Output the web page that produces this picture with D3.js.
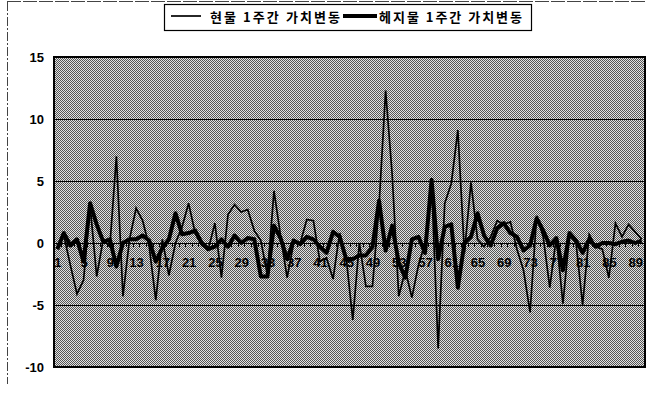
<!DOCTYPE html>
<html>
<head>
<meta charset="utf-8">
<script src="https://cdn.jsdelivr.net/npm/d3@7"></script>
<style>
  html, body { margin: 0; padding: 0; background: #fff; }
  svg { display: block; }
</style>
</head>
<body>
<svg id="chart" width="648" height="393"></svg>
<script>
// Week numbers on the category axis
const weeks = d3.range(1, 91);

// Weekly value change of the spot position
const spotChange = [
  -0.3, 0.6, -1.8, -4.1, -3.0, 3.0, -2.7, 0.3, -0.3, 7.0,
  -4.3, 0.3, 2.8, 1.8, -0.3, -4.6, 0.3, -2.6, 0.0, 1.3,
  3.2, 0.8, -0.2, -0.5, 1.6, -2.8, 2.3, 3.1, 2.5, 2.7,
  1.0, 0.2, -2.6, 4.2, 0.6, -2.8, 0.0, 0.0, 1.9, 1.8,
  -1.5, -1.2, -2.9, 0.8, -1.2, -6.2, 0.0, -3.5, -3.5, 3.0,
  12.3, 5.5, -4.3, -2.2, -4.4, -1.8, 0.0, 4.8, -8.5, 3.2,
  4.8, 9.1, -0.8, 4.9, 0.3, -0.3, 0.5, 1.8, 1.5, 1.7,
  -0.5, -2.2, -5.6, 2.2, 0.5, -3.6, 0.5, -4.9, 0.6, 0.0,
  -5.0, 0.7, -0.3, -0.5, -2.8, 1.6, 0.5, 1.5, 0.9, 0.3
];

// Weekly value change of the hedged position
const hedgeChange = [
  -0.5, 0.8, -0.2, 0.3, -1.5, 3.2, 1.5, 0.1, 0.3, -1.9,
  0.0, 0.3, 0.3, 0.6, 0.2, -1.5, -0.4, 0.3, 2.4, 0.7,
  0.8, 1.0, 0.0, -0.5, -0.3, 0.3, -0.3, 0.6, 0.0, 0.4,
  0.3, -2.7, -2.7, 1.4, 0.4, -1.3, 0.2, -0.1, 0.5, 0.3,
  -0.3, -0.8, 0.9, 0.5, -1.3, -1.3, -1.0, -1.0, -0.3, 3.4,
  -0.6, 1.4, -1.6, -2.8, 0.3, 0.5, -0.8, 5.1, -1.3, 1.3,
  1.5, -3.6, 0.0, 0.5, 2.4, 0.6, -0.2, 1.2, 1.6, 0.8,
  0.5, -0.6, -0.2, 2.0, 1.0, -0.2, 0.4, -2.2, 0.8, 0.2,
  -0.8, 0.3, -0.3, 0.0, 0.0, -0.1, 0.1, 0.2, 0.0, 0.2
];

const weekTicks = [1, 5, 9, 13, 17, 21, 25, 29, 33, 37, 41, 45, 49, 53, 57, 61, 65, 69, 73, 77, 81, 85, 89];
const valueTicks = [-10, -5, 0, 5, 10, 15];
const seriesNames = ["현물 1주간 가치변동", "헤지물 1주간 가치변동"];

const svg = d3.select("#chart");
const plot = { left: 54, right: 645, top: 57, bottom: 367 };

const x = d3.scalePoint().domain(weeks).range([plot.left, plot.right]).padding(0.5);
const y = d3.scaleLinear().domain([-10, 15]).range([plot.bottom, plot.top]);

// halftone grey fill for the plot area
const defs = svg.append("defs");
const pat = defs.append("pattern")
  .attr("id", "dither").attr("width", 2).attr("height", 2)
  .attr("patternUnits", "userSpaceOnUse");
pat.append("rect").attr("width", 2).attr("height", 2).attr("fill", "#e2e2e2");
pat.append("rect").attr("x", 0).attr("y", 0).attr("width", 1).attr("height", 1).attr("fill", "#555");
pat.append("rect").attr("x", 1).attr("y", 1).attr("width", 1).attr("height", 1).attr("fill", "#555");

// chart frame: dashed left edge and top edge
svg.append("line")
  .attr("x1", 7.5).attr("x2", 7.5).attr("y1", 2).attr("y2", 384)
  .attr("stroke", "#444").attr("stroke-width", 1).attr("stroke-dasharray", "9,2,2,2");
svg.append("line")
  .attr("x1", 7).attr("x2", 647).attr("y1", 1.5).attr("y2", 1.5)
  .attr("stroke", "#444").attr("stroke-width", 1).attr("stroke-dasharray", "14,2");

// plot area
svg.append("rect")
  .attr("x", plot.left).attr("y", plot.top)
  .attr("width", plot.right - plot.left).attr("height", plot.bottom - plot.top)
  .attr("fill", "url(#dither)");

// horizontal gridlines
svg.append("g").selectAll("line").data(valueTicks).join("line")
  .attr("x1", plot.left).attr("x2", plot.right)
  .attr("y1", d => Math.round(y(d)) + 0.5).attr("y2", d => Math.round(y(d)) + 0.5)
  .attr("stroke", "#000").attr("stroke-width", 1);

// plot border
svg.append("rect")
  .attr("x", plot.left).attr("y", plot.top)
  .attr("width", plot.right - plot.left).attr("height", plot.bottom - plot.top)
  .attr("fill", "none").attr("stroke", "#000").attr("stroke-width", 2);

// value axis labels
const yAxis = d3.axisLeft(y).tickValues(valueTicks).tickSize(0).tickPadding(10).tickFormat(d => String(d));
svg.append("g")
  .attr("transform", `translate(${plot.left},0)`)
  .call(yAxis)
  .call(g => g.select(".domain").remove())
  .selectAll("text")
  .attr("font-family", "'Liberation Sans', Arial, sans-serif")
  .attr("font-size", 13).attr("font-weight", "bold").attr("fill", "#000");

// category axis along zero: small tick marks between weeks
const step = x.step();
svg.append("g").selectAll("line").data(weeks).join("line")
  .attr("x1", d => Math.round(x(d) - step / 2) + 0.5)
  .attr("x2", d => Math.round(x(d) - step / 2) + 0.5)
  .attr("y1", Math.round(y(0))).attr("y2", Math.round(y(0)) + 4)
  .attr("stroke", "#000").attr("stroke-width", 1);

const xAxis = d3.axisBottom(x).tickValues(weekTicks).tickSize(0).tickPadding(15);
svg.append("g")
  .attr("transform", `translate(0,${y(0)})`)
  .call(xAxis)
  .call(g => g.select(".domain").remove())
  .selectAll("text")
  .attr("font-family", "'Liberation Sans', Arial, sans-serif")
  .attr("font-size", 13).attr("font-weight", "bold").attr("fill", "#000");

// series lines
const line = d3.line().x((d, i) => x(weeks[i])).y(d => y(d));
svg.append("path").datum(spotChange)
  .attr("d", line).attr("fill", "none")
  .attr("stroke", "#000").attr("stroke-width", 1.7).attr("stroke-linejoin", "miter");
svg.append("path").datum(hedgeChange)
  .attr("d", line).attr("fill", "none")
  .attr("stroke", "#000").attr("stroke-width", 4).attr("stroke-linejoin", "round");

// legend
const lg = svg.append("g");
lg.append("rect")
  .attr("x", 164.5).attr("y", 4.5).attr("width", 367).attr("height", 26)
  .attr("fill", "#fff").attr("stroke", "#000").attr("stroke-width", 1.2);
const legendItems = [
  { name: seriesNames[0], x1: 171, x2: 201, sw: 1.7, tx: 210, tl: 130 },
  { name: seriesNames[1], x1: 343, x2: 377, sw: 4, tx: 379, tl: 143 }
];
legendItems.forEach(it => {
  lg.append("line")
    .attr("x1", it.x1).attr("x2", it.x2).attr("y1", 16).attr("y2", 16)
    .attr("stroke", "#000").attr("stroke-width", it.sw);
  lg.append("text")
    .attr("x", it.tx).attr("y", 16)
    .attr("dominant-baseline", "central")
    .attr("font-family", "'Noto Sans CJK KR', sans-serif")
    .attr("font-size", 13).attr("font-weight", "bold")
    .attr("textLength", it.tl).attr("lengthAdjust", "spacing")
    .text(it.name);
});
</script>
</body>
</html>
